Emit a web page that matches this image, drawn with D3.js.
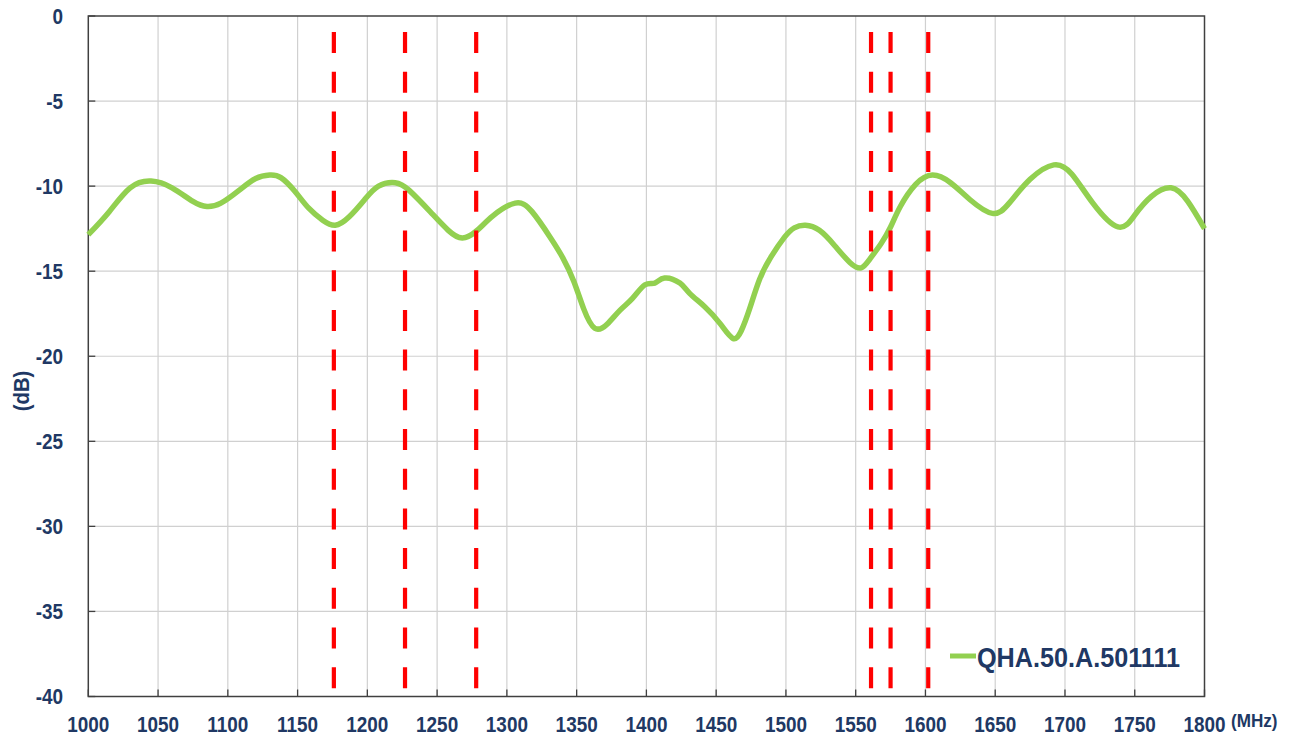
<!DOCTYPE html>
<html><head><meta charset="utf-8">
<script src="https://cdn.jsdelivr.net/npm/d3@7"></script>
<style>body{margin:0;background:#fff;}svg{display:block;}</style>
</head><body>
<svg id="c" width="1296" height="740"></svg>
<script>
const freqs = [1000,1015,1030,1045,1060,1075,1085,1095,1108,1120,1130,1138,1148,1158,1168,1177,1187,1198,1208,1220,1230,1245,1258,1268,1278,1290,1306,1318,1331,1340,1348,1355,1363,1372,1381,1390,1399,1406,1413,1424,1431,1442,1453,1462,1468,1474,1481,1489,1499,1506,1514,1524,1535,1546,1554,1560,1568,1575,1582,1593,1605,1618,1632,1648,1660,1675,1692,1705,1720,1738,1750,1762,1776,1788,1800];
const gainDb = [-12.85,-11.5,-10.1,-9.7,-10.1,-10.9,-11.2,-11.0,-10.25,-9.55,-9.35,-9.5,-10.3,-11.3,-12.0,-12.3,-11.8,-10.8,-10.0,-9.8,-10.25,-11.5,-12.6,-13.05,-12.65,-11.75,-11.0,-11.5,-13.0,-14.2,-15.6,-17.2,-18.35,-18.1,-17.3,-16.6,-15.8,-15.7,-15.4,-15.7,-16.3,-17.1,-18.1,-18.95,-18.5,-17.2,-15.5,-14.2,-13.0,-12.45,-12.3,-12.6,-13.5,-14.5,-14.8,-14.3,-13.4,-12.4,-11.2,-9.9,-9.35,-9.8,-10.8,-11.6,-11.0,-9.6,-8.75,-9.3,-11.0,-12.4,-11.7,-10.6,-10.1,-10.9,-12.5];
const bandLines = [1176,1227,1278,1561,1575,1602];
const xTicks = [1000,1050,1100,1150,1200,1250,1300,1350,1400,1450,1500,1550,1600,1650,1700,1750,1800];
const yTicks = [0,-5,-10,-15,-20,-25,-30,-35,-40];
const seriesName = "QHA.50.A.501111";

const svg = d3.select("#c");
const L=88.3, R=1204.5, T=16, B=696.5;
const x = d3.scaleLinear().domain([1000,1800]).range([L,R]);
const y = d3.scaleLinear().domain([-40,0]).range([B,T]);
const txt = "#203864";
const font = "'Liberation Sans', Arial, sans-serif";

// grid
svg.append("g").selectAll("line").data(xTicks.slice(1,-1)).join("line")
  .attr("x1",d=>x(d)).attr("x2",d=>x(d)).attr("y1",T).attr("y2",B)
  .attr("stroke","#d0d0d0").attr("stroke-width",1.2);
svg.append("g").selectAll("line").data(yTicks.slice(1,-1)).join("line")
  .attr("x1",L).attr("x2",R).attr("y1",d=>y(d)).attr("y2",d=>y(d))
  .attr("stroke","#d0d0d0").attr("stroke-width",1.2);

// inner ticks
svg.append("g").selectAll("line").data(xTicks).join("line")
  .attr("x1",d=>x(d)).attr("x2",d=>x(d)).attr("y1",B).attr("y2",B-7)
  .attr("stroke","#404040").attr("stroke-width",1.3);
svg.append("g").selectAll("line").data(yTicks).join("line")
  .attr("x1",L).attr("x2",L+7).attr("y1",d=>y(d)).attr("y2",d=>y(d))
  .attr("stroke","#404040").attr("stroke-width",1.3);

// frame
svg.append("rect").attr("x",L).attr("y",T).attr("width",R-L).attr("height",B-T)
  .attr("fill","none").attr("stroke","#404040").attr("stroke-width",1.5);

// curve
const data = freqs.map((f,i)=>({f, v:gainDb[i]}));
const line = d3.line().x(d=>x(d.f)).y(d=>y(d.v)).curve(d3.curveNatural);
svg.append("path").datum(data).attr("d",line)
  .attr("fill","none").attr("stroke","#92d050").attr("stroke-width",5.5).attr("stroke-linejoin","round");

// red dashed band lines
svg.append("g").selectAll("line").data(bandLines).join("line")
  .attr("x1",d=>x(d)).attr("x2",d=>x(d)).attr("y1",32).attr("y2",690)
  .attr("stroke","#ff0000").attr("stroke-width",4.2).attr("stroke-dasharray","21 18.7");

// tick labels
svg.append("g").selectAll("text").data(yTicks).join("text")
  .attr("transform",d=>`translate(63,${y(d)}) scale(0.86,1)`)
  .attr("dy","0.36em").attr("text-anchor","end")
  .attr("font-family",font).attr("font-weight","bold").attr("font-size",22)
  .attr("fill",txt).text(d=>d);
svg.append("g").selectAll("text").data(xTicks).join("text")
  .attr("transform",d=>`translate(${x(d)},732) scale(0.86,1)`)
  .attr("text-anchor","middle")
  .attr("font-family",font).attr("font-weight","bold").attr("font-size",22)
  .attr("fill",txt).text(d=>d);

// axis titles
svg.append("text").attr("transform","translate(29,391) rotate(-90) scale(0.92,1)")
  .attr("text-anchor","middle").attr("font-family",font).attr("font-weight","bold")
  .attr("font-size",22).attr("fill",txt).text("(dB)");
svg.append("text").attr("transform","translate(1231,727) scale(0.9,1)")
  .attr("font-family",font).attr("font-weight","bold")
  .attr("font-size",19).attr("fill",txt).text("(MHz)");

// legend
svg.append("line").attr("x1",950).attr("x2",976).attr("y1",656).attr("y2",656)
  .attr("stroke","#92d050").attr("stroke-width",5);
svg.append("text").attr("transform","translate(977,667) scale(0.9,1)")
  .attr("font-family",font).attr("font-weight","bold").attr("font-size",28)
  .attr("fill",txt).text(seriesName);
</script>
</body></html>
